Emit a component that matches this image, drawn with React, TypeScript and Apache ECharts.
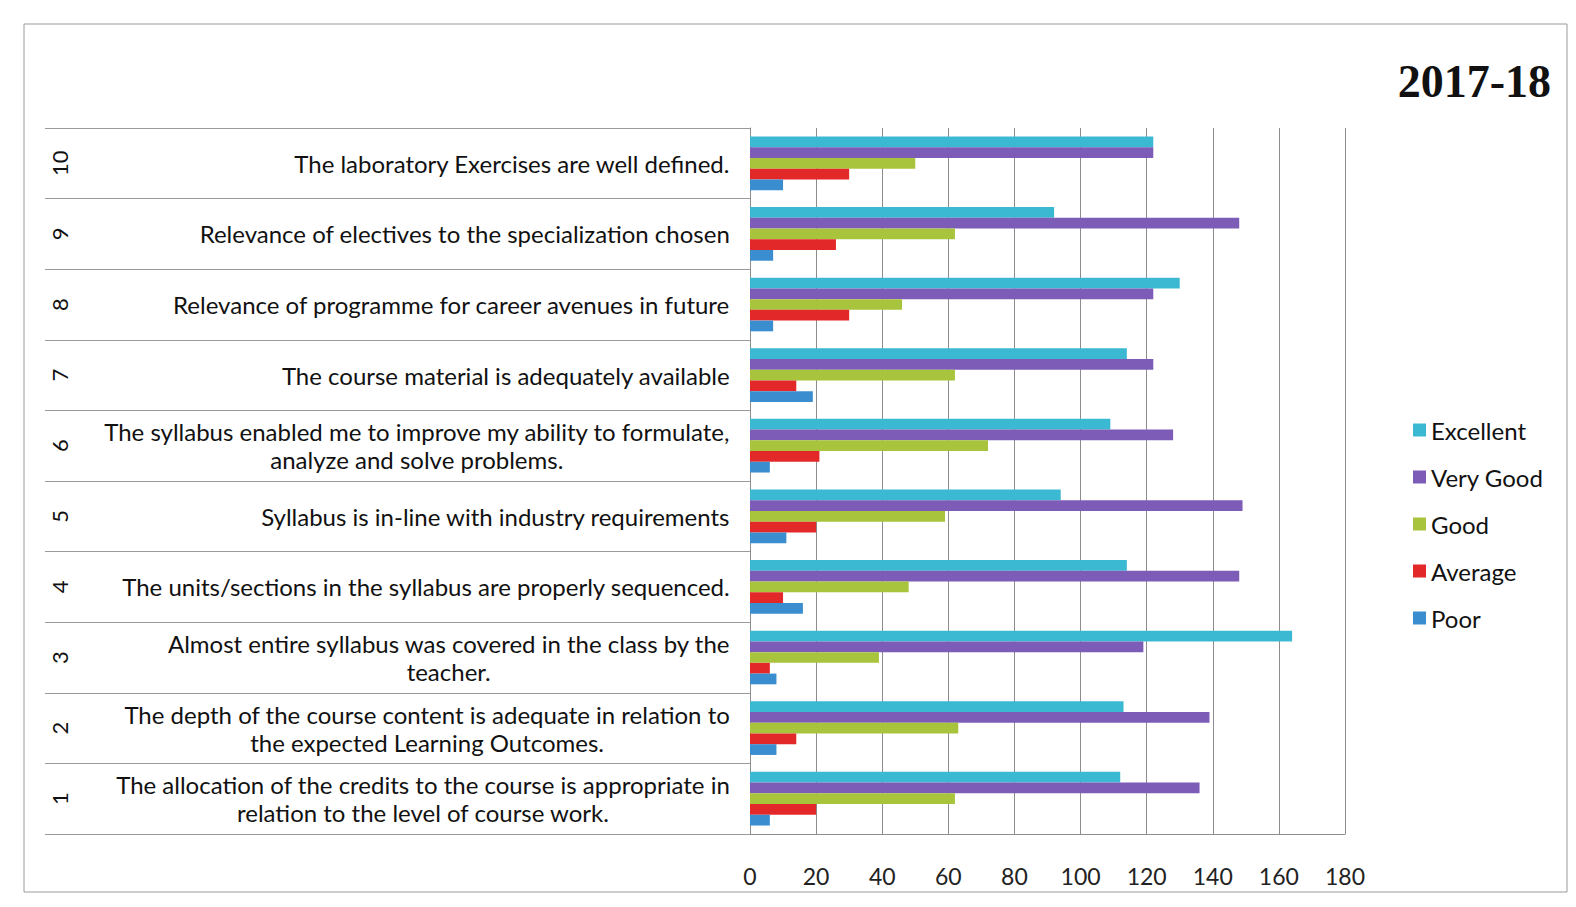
import React, { useEffect, useRef } from 'react';
import * as echarts from 'echarts';

const categories: string[] = [
  'The allocation of the credits to the course is appropriate in\nrelation to the level of course work.',
  'The depth of the course content is adequate in relation to\nthe expected Learning Outcomes.',
  'Almost entire syllabus was covered in the class by the\nteacher.',
  'The units/sections in the syllabus are properly sequenced.',
  'Syllabus is in-line with industry requirements',
  'The syllabus enabled me to improve my ability to formulate,\nanalyze and solve problems.',
  'The course material is adequately available',
  'Relevance of programme for career avenues in future',
  'Relevance of electives to the specialization chosen',
  'The laboratory Exercises are well defined.',
];

const itemNumbers: string[] = ['1', '2', '3', '4', '5', '6', '7', '8', '9', '10'];

const excellent: number[] = [112, 113, 164, 114, 94, 109, 114, 130, 92, 122];
const veryGood: number[] = [136, 139, 119, 148, 149, 128, 122, 122, 148, 122];
const good: number[] = [62, 63, 39, 48, 59, 72, 62, 46, 62, 50];
const average: number[] = [20, 14, 6, 10, 20, 21, 14, 30, 26, 30];
const poor: number[] = [6, 8, 8, 16, 11, 6, 19, 7, 7, 10];

const seriesNames: string[] = ['Excellent', 'Very Good', 'Good', 'Average', 'Poor'];
const seriesColors: string[] = ['#3CB9D2', '#7D5CB8', '#A8C43C', '#E3282A', '#3A8DCF'];

const xTicks = { min: 0, max: 180, interval: 20 };
const titleText = '2017-18';

const FONT = 'Lato';

export default function App() {
  const ref = useRef<HTMLDivElement>(null);

  useEffect(() => {
    const chart = echarts.init(ref.current!, null, { renderer: 'svg' });
    const seriesData = [excellent, veryGood, good, average, poor];
    chart.setOption({
      animation: false,
      backgroundColor: '#ffffff',
      title: {
        text: titleText,
        right: 20,
        top: 53,
        textStyle: {
          fontFamily: 'Liberation Serif',
          fontWeight: 'bold',
          fontSize: 46,
          color: '#111',
        },
      },
      legend: {
        orient: 'vertical',
        left: 1408,
        top: 412,
        icon: 'rect',
        itemWidth: 13,
        itemHeight: 13,
        itemGap: 21,
        data: seriesNames,
        textStyle: { fontFamily: FONT, fontSize: 24, color: '#111', lineHeight: 26 },
      },
      graphic: [
        {
          type: 'rect',
          shape: { x: 24, y: 24, width: 1543, height: 868 },
          style: { fill: 'none', stroke: '#9a9a9a', lineWidth: 1 },
          silent: true,
          z: -1,
        },
      ],
      grid: { left: 750, right: 231, top: 128, bottom: 73, containLabel: false },
      xAxis: {
        type: 'value',
        min: xTicks.min,
        max: xTicks.max,
        interval: xTicks.interval,
        axisLine: { show: true, lineStyle: { color: '#8c8c8c', width: 1 } },
        axisTick: { show: false },
        axisLabel: { fontFamily: FONT, fontSize: 23, color: '#222', margin: 30 },
        splitLine: { show: true, lineStyle: { color: '#8c8c8c', width: 1 } },
      },
      yAxis: [
        {
          type: 'category',
          data: categories,
          axisLine: { show: true, lineStyle: { color: '#8c8c8c', width: 1 } },
          axisTick: { show: true, length: 705, lineStyle: { color: '#9a9a9a', width: 1 } },
          splitLine: { show: false },
          axisLabel: {
            margin: 20,
            align: 'right',
            formatter: (v: string) => v.split('\n').map((l) => `{c|${l}}`).join('\n'),
            rich: {
              c: { align: 'center', fontFamily: FONT, fontSize: 24, color: '#111', lineHeight: 28 },
            },
          },
        },
        {
          type: 'category',
          data: itemNumbers,
          position: 'left',
          offset: 680,
          axisLine: { show: false },
          axisTick: { show: false },
          splitLine: { show: false },
          axisLabel: { rotate: 90, margin: 0, fontFamily: FONT, fontSize: 22, color: '#111' },
        },
      ],
      series: seriesNames.map((name, i) => ({
        name,
        type: 'bar',
        yAxisIndex: 0,
        data: seriesData[i],
        barGap: '0%',
        barCategoryGap: '24%',
        itemStyle: { color: seriesColors[i] },
      })),
    });
    return () => chart.dispose();
  }, []);

  return (
    <div
      ref={ref}
      style={{ position: 'fixed', left: 0, top: 0, width: 1576, height: 907, background: '#fff' }}
    />
  );
}
